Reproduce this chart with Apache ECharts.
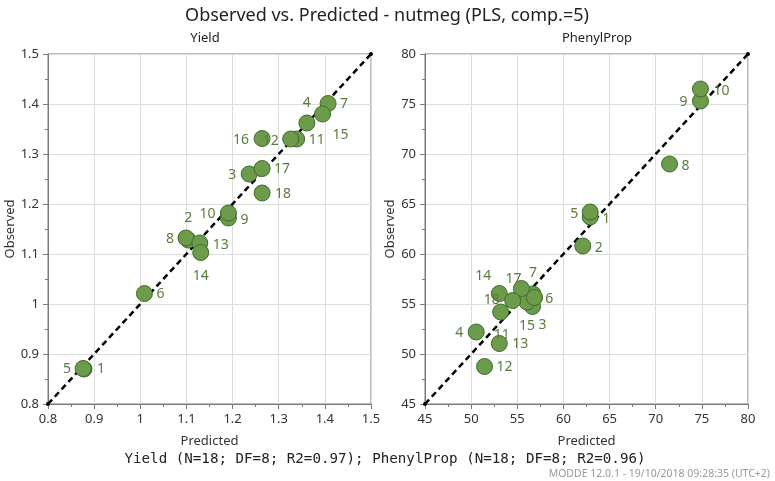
<!DOCTYPE html>
<html><head><meta charset="utf-8">
<script src="https://cdn.jsdelivr.net/npm/echarts@6/dist/echarts.min.js"></script>
<style>html,body{margin:0;padding:0;background:#fff}#c{width:775px;height:481px}</style>
</head><body><div id="c"></div>
<script>
// ---- data ----
var obsIds = ['1','2','3','4','5','6','7','8','9','10','11','12','13','14','15','16','17','18'];
var yieldPred = [0.878,1.104,1.236,1.361,0.876,1.009,1.407,1.099,1.191,1.191,1.339,1.326,1.129,1.131,1.395,1.264,1.264,1.264];
var yieldObs  = [0.870,1.128,1.260,1.362,0.871,1.021,1.401,1.132,1.172,1.182,1.330,1.330,1.122,1.103,1.380,1.331,1.271,1.222];
var phenPred = [62.9,62.1,56.65,50.55,62.9,56.85,56.7,71.5,74.85,74.85,53.2,51.45,53.05,53.05,56.05,56.85,55.45,54.5];
var phenObs  = [63.7,60.8,54.75,52.2,64.2,55.65,56.0,69.0,75.3,76.5,54.2,48.75,51.05,56.05,55.2,55.65,56.55,55.35];
var yieldTicks = [0.8,0.9,1,1.1,1.2,1.3,1.4,1.5];
var phenTicks = [45,50,55,60,65,70,75,80];
var mainTitle = 'Observed vs. Predicted - nutmeg (PLS, comp.=5)';
var panelTitles = ['Yield','PhenylProp'];
var footer = 'Yield (N=18; DF=8; R2=0.97); PhenylProp (N=18; DF=8; R2=0.96)';
var stamp = 'MODDE 12.0.1 - 19/10/2018 09:28:35 (UTC+2)';

// ---- label placement (style) ----
var yieldLblOff = [[17,0],[0,-22],[-17,1],[0,-20],[-16,1],[16,1],[16,1],[-16,1],[16,2],[-21,1],[20,1],[-20,2],[21,2],[0,24],[18,21],[-21,2],[20,1],[21,1]];
var phenLblOff  = [[16,2],[16,2],[10,19],[-17,1],[-16,2],[15,2],[0,-21],[16,2],[-17,1],[21,2],[1,23],[20,1],[21,1],[-16,-17],[0,24],null,[-8,-9],[-21,0]];

var FONT = '"Noto Sans", "Open Sans", sans-serif';
var lblColor = '#5b7b3b';
function pts(px, py, offs){
  return obsIds.map(function(id,i){
    var o = offs[i];
    return {value:[px[i],py[i]], name:id,
      label: o ? {show:true, position:'inside', offset:o, formatter:id} : {show:false}};
  });
}
function fmt(v){ return String(+(+v).toFixed(3)); }
function axisCommon(ticks, gi){
  return {
    gridIndex: gi, type:'value', min: ticks[0], max: ticks[ticks.length-1],
    interval: ticks[1]-ticks[0],
    axisLine:{show:true, lineStyle:{color:'#7a7a7a', width:1}},
    axisTick:{show:true, length:5, inside:false, lineStyle:{color:'#7a7a7a'}},
    minorTick:{show:true, splitNumber:2, length:3, lineStyle:{color:'#7a7a7a'}},
    splitLine:{show:true, lineStyle:{color:'#dcdcdc', width:1}},
    axisLabel:{color:'#333', fontSize:13, fontFamily:FONT, margin:9, formatter:fmt},
    nameTextStyle:{color:'#333', fontSize:13, fontFamily:FONT}
  };
}
var x0 = Object.assign(axisCommon(yieldTicks,0), {name:'Predicted', nameLocation:'middle', nameGap:31});
var x1 = Object.assign(axisCommon(phenTicks,1), {name:'Predicted', nameLocation:'middle', nameGap:31});
var y0 = Object.assign(axisCommon(yieldTicks,0), {name:'Observed', nameLocation:'middle', nameGap:29});
var y1 = Object.assign(axisCommon(phenTicks,1), {name:'Observed', nameLocation:'middle', nameGap:26});

function scatter(xi, px, py, offs){
  return {type:'scatter', xAxisIndex:xi, yAxisIndex:xi, z:3,
    symbol:'circle', symbolSize:16,
    itemStyle:{color:'#6b9b4b', borderColor:'#3f6d2c', borderWidth:1, opacity:1},
    label:{color:lblColor, fontSize:14, fontFamily:FONT},
    emphasis:{disabled:true},
    data: pts(px, py, offs)};
}
function diag(xi, ticks){
  var a = ticks[0], b = ticks[ticks.length-1];
  return {type:'line', xAxisIndex:xi, yAxisIndex:xi, z:2, silent:true,
    symbol:'circle', symbolSize:4, itemStyle:{color:'#000'},
    lineStyle:{color:'#000', width:2.5, type:[6,4]},
    data:[[a,a],[b,b]]};
}

var chart = echarts.init(document.getElementById('c'), null, {renderer:'canvas'});
chart.setOption({
  animation:false,
  backgroundColor:'#fff',
  grid:[
    {left:48, top:54, width:323, height:350, containLabel:false, outerBoundsMode:'none', show:true, borderColor:'#7a7a7a', borderWidth:1, backgroundColor:'transparent'},
    {left:425, top:54, width:323, height:350, containLabel:false, outerBoundsMode:'none', show:true, borderColor:'#7a7a7a', borderWidth:1, backgroundColor:'transparent'}
  ],
  xAxis:[x0,x1], yAxis:[y0,y1],
  graphic:[
    {type:'text', x:387, y:16, style:{text:mainTitle, font:'18px '+FONT, fill:'#222', align:'center', verticalAlign:'middle'}},
    {type:'text', x:205, y:38, style:{text:panelTitles[0], font:'13px '+FONT, fill:'#222', align:'center', verticalAlign:'middle'}},
    {type:'text', x:597, y:38, style:{text:panelTitles[1], font:'13px '+FONT, fill:'#222', align:'center', verticalAlign:'middle'}},
    {type:'text', x:385, y:459, style:{text:footer, font:'14.2px "DejaVu Sans Mono", monospace', fill:'#222', align:'center', verticalAlign:'middle'}},
    {type:'text', x:770, y:474, style:{text:stamp, font:'10.5px '+FONT, fill:'#999', align:'right', verticalAlign:'middle'}}
  ],
  series:[
    diag(0, yieldTicks), diag(1, phenTicks),
    scatter(0, yieldPred, yieldObs, yieldLblOff),
    scatter(1, phenPred, phenObs, phenLblOff)
  ]
});
</script></body></html>
